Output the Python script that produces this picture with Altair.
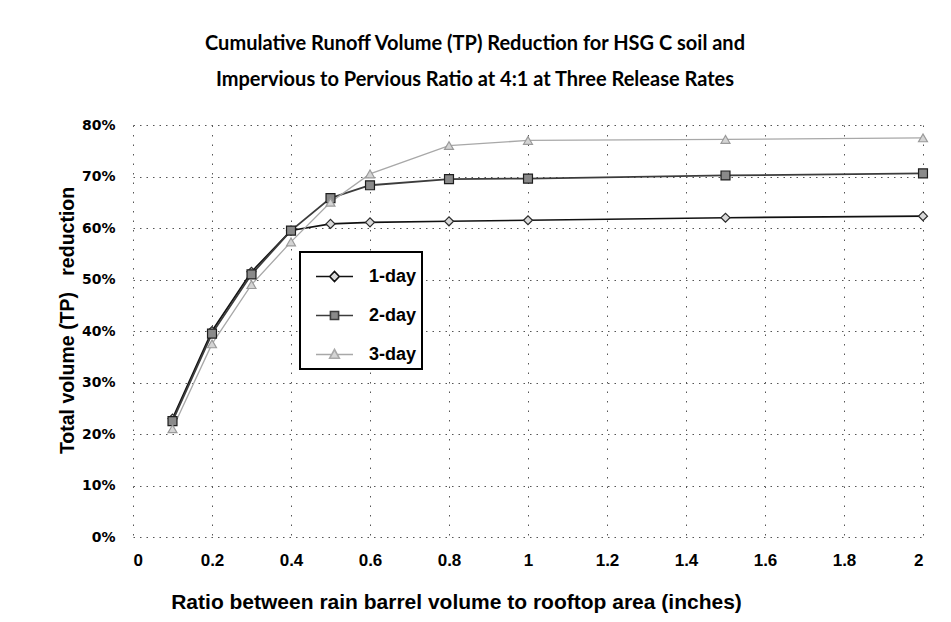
import altair as alt
import pandas as pd

# ---- data ----
x_vals = [0.1, 0.2, 0.3, 0.4, 0.5, 0.6, 0.8, 1.0, 1.5, 2.0]
one_day = [23.0, 40.0, 51.5, 59.5, 60.8, 61.1, 61.3, 61.5, 62.0, 62.3]
two_day = [22.5, 39.5, 51.0, 59.5, 65.8, 68.3, 69.5, 69.6, 70.2, 70.6]
three_day = [21.0, 37.5, 49.0, 57.3, 65.0, 70.5, 76.0, 77.0, 77.2, 77.5]
series_names = ["1-day", "2-day", "3-day"]
x_ticks = [0, 0.2, 0.4, 0.6, 0.8, 1, 1.2, 1.4, 1.6, 1.8, 2]
y_ticks = [0, 10, 20, 30, 40, 50, 60, 70, 80]
title_lines = [
    "Cumulative Runoff Volume (TP) Reduction for HSG C soil  and",
    "Impervious to Pervious Ratio at 4:1 at Three Release Rates",
]
x_title = "Ratio between rain barrel volume to rooftop area (inches)"
y_title = "Total volume (TP)\u00a0\u00a0 reduction"

rows = []
for name, vals in zip(series_names, [one_day, two_day, three_day]):
    for xv, yv in zip(x_vals, vals):
        rows.append({"series": name, "x": xv, "y": yv})
df = pd.DataFrame(rows)

# ---- styles ----
line_color = {"1-day": "#111111", "2-day": "#3c3c3c", "3-day": "#a8a8a8"}
line_width = {"1-day": 1.6, "2-day": 1.8, "3-day": 1.3}
marker_shape = {"1-day": "diamond", "2-day": "square", "3-day": "triangle-up"}
marker_fill = {"1-day": "#d9d9d9", "2-day": "#8a8a8a", "3-day": "#d4d4d4"}
marker_stroke = {"1-day": "#2a2a2a", "2-day": "#1e1e1e", "3-day": "#9a9a9a"}
legend_paths = [
    "M-1,0H-0.26M-0.26,0L0,-0.27L0.26,0L0,0.27ZM0.26,0H1",
    "M-1,0H-0.22M-0.22,-0.22H0.22V0.22H-0.22ZM0.22,0H1",
    "M-1,0H-0.15M-0.26,0.2L0,-0.27L0.26,0.2ZM0.15,0H1",
]

x_enc = alt.X(
    "x:Q",
    scale=alt.Scale(domain=[0, 2], nice=False, zero=False),
    axis=alt.Axis(
        values=x_ticks,
        format="~g",
        title=x_title,
        labelFont="Liberation Sans",
        labelFontSize=17,
        labelFontWeight="bold",
        labelPadding=15,
        titleFont="Liberation Sans",
        titleFontSize=21,
        titleFontWeight="bold",
        titlePadding=23,
        gridDash=[1.5, 8],
        titleX=323,
    ),
)
y_enc = alt.Y(
    "y:Q",
    scale=alt.Scale(domain=[0, 80], nice=False),
    axis=alt.Axis(
        values=y_ticks,
        labelExpr="datum.value + '%'",
        title=y_title,
        labelFont="DejaVu Sans",
        labelFontSize=14,
        labelFontWeight="bold",
        labelPadding=18,
        titleFont="Liberation Sans",
        titleFontSize=19.5,
        titleFontWeight="bold",
        titlePadding=4,
        titleY=195,
        gridDash=[1.5, 5],
    ),
)

layers = []
for name in series_names:
    sub = alt.Chart(df).transform_filter(alt.datum.series == name)
    layers.append(
        sub.mark_line(color=line_color[name], strokeWidth=line_width[name]).encode(
            x=x_enc, y=y_enc
        )
    )
for name in series_names:
    sub = alt.Chart(df).transform_filter(alt.datum.series == name)
    layers.append(
        sub.mark_point(
            shape=marker_shape[name],
            size=80,
            filled=True,
            fill=marker_fill[name],
            stroke=marker_stroke[name],
            strokeWidth=1.2,
            opacity=1,
        ).encode(x=x_enc, y=y_enc)
    )

leg = alt.Legend(
    title=None,
    orient="none",
    legendX=167,
    legendY=127,
    symbolSize=1369,
    symbolStrokeWidth=1.6,
    symbolOffset=10,
    labelOffset=15,
    labelFont="Liberation Sans",
    labelFontSize=18,
    labelFontWeight="bold",
    labelColor="black",
    labelExpr="datum.label + '\u00a0\u00a0\u00a0'",
    rowPadding=10,
    padding=5,
    strokeColor="black",
    fillColor="white",
)
legend_layer = (
    alt.Chart(df)
    .transform_filter("datum.x < 0")
    .mark_point(filled=True, opacity=1, strokeWidth=1.6)
    .encode(
        shape=alt.Shape(
            "series:N", scale=alt.Scale(domain=series_names, range=legend_paths), legend=leg
        ),
        fill=alt.Fill(
            "series:N",
            scale=alt.Scale(domain=series_names, range=[marker_fill[s] for s in series_names]),
            legend=leg,
        ),
        stroke=alt.Stroke(
            "series:N",
            scale=alt.Scale(domain=series_names, range=[line_color[s] for s in series_names]),
            legend=leg,
        ),
    )
)
layers.append(legend_layer)

chart = (
    alt.layer(*layers)
    .properties(
        width=790,
        height=412,
        autosize=alt.AutoSizeParams(type="none"),
        padding={"left": 125, "top": 117, "right": 20, "bottom": 77},
        title=alt.TitleParams(
            text=title_lines,
            font="Lato",
            fontSize=20,
            fontWeight="bold",
            color="black",
            anchor="middle",
            dx=-53,
            lineHeight=36,
            offset=28,
        ),
        background="white",
    )
    .configure_view(stroke=None)
    .configure_axis(
        domain=False,
        ticks=False,
        grid=True,
        gridColor="#555555",
        gridWidth=1,
        labelColor="black",
        titleColor="black",
    )
    .configure_legend(strokeWidth=2)
)

chart.save("out.html", embed_options={"renderer": "svg", "actions": False})
